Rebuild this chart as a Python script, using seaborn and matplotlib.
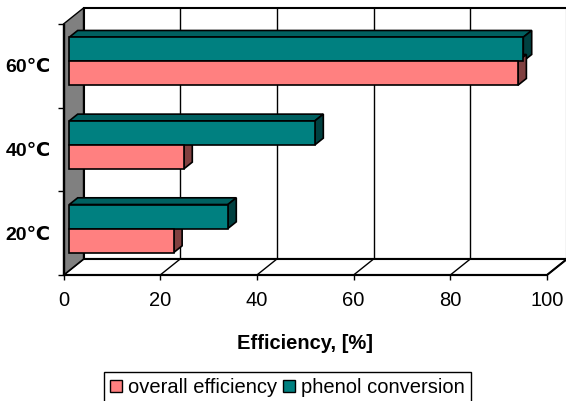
import matplotlib
matplotlib.use('Agg')
import matplotlib.pyplot as plt
import matplotlib.transforms as mtransforms
from matplotlib.patches import Polygon, Patch
from matplotlib.lines import Line2D
import pandas as pd
import seaborn as sns

# data
temps = ['60℃', '40℃', '20℃']
overall_efficiency = [92.8, 23.7, 21.6]
phenol_conversion = [93.9, 50.8, 32.8]
x_ticks = [0, 20, 40, 60, 80, 100]
series = ['overall efficiency', 'phenol conversion']

front_colors = {'overall efficiency': '#FF8080', 'phenol conversion': '#008080'}
top_colors = {'overall efficiency': '#C06060', 'phenol conversion': '#006060'}
side_colors = {'overall efficiency': '#804040', 'phenol conversion': '#004040'}

df = pd.DataFrame({
    'temp': temps * 2,
    'value': overall_efficiency + phenol_conversion,
    'series': [series[0]] * len(temps) + [series[1]] * len(temps),
})

sns.set_theme(style='white', rc={'text.color': 'black', 'axes.labelcolor': 'black',
                                 'xtick.color': 'black', 'ytick.color': 'black'})
plt.rcParams['font.family'] = ['Liberation Sans', 'DejaVu Sans']

W, H = 566, 401
fig = plt.figure(figsize=(W / 100, H / 100), dpi=100)

# front plane of the 3D box (pixels from top-left)
px_left, px_right, px_top, px_bottom = 63.5, 547, 24, 275
ax = fig.add_axes([px_left / W, 1 - px_bottom / H,
                   (px_right - px_left) / W, (px_bottom - px_top) / H])

DX, DY = 20, 16            # box depth in pixels
BAR_FRONT, BAR_BACK = 0.29, 0.71

hue_order = ['phenol conversion', 'overall efficiency']
sns.barplot(data=df, x='value', y='temp', hue='series', order=temps,
            hue_order=hue_order, palette=front_colors, saturation=1,
            width=0.574, edgecolor='black', linewidth=1.2, orient='h',
            legend=False, ax=ax, zorder=5)
ax.set_xlim(0, 100)
ax.set_ylim(len(temps) - 0.5, -0.5)
ax.patch.set_visible(False)

ident = mtransforms.IdentityTransform()


def disp(x, y, d=0.0):
    px, py = ax.transData.transform((x, y))
    return (px + d * DX, py + d * DY)


def poly(pts, fc, z, lw=1.0):
    ax.add_patch(Polygon(pts, closed=True, transform=ident, facecolor=fc,
                         edgecolor='black', linewidth=lw, zorder=z, clip_on=False))


def seg(p0, p1, z=2, lw=1.0):
    ax.add_line(Line2D([p0[0], p1[0]], [p0[1], p1[1]], transform=ident,
                       color='black', linewidth=lw, zorder=z, clip_on=False))


y_lo, y_hi = len(temps) - 0.5, -0.5   # bottom and top in data units

# back wall, floor, left wall
poly([disp(0, y_lo, 1), disp(100, y_lo, 1), disp(100, y_hi, 1), disp(0, y_hi, 1)], 'white', 1, 1.5)
poly([disp(0, y_lo, 0), disp(100, y_lo, 0), disp(100, y_lo, 1), disp(0, y_lo, 1)], 'white', 1.5, 1.5)
poly([disp(0, y_lo, 0), disp(0, y_hi, 0), disp(0, y_hi, 1), disp(0, y_lo, 1)], '#808080', 2, 1.0)
for t in x_ticks[1:-1]:
    seg(disp(t, y_lo, 1), disp(t, y_hi, 1), z=1.2)
for t in x_ticks[1:]:
    seg(disp(t, y_lo, 0), disp(t, y_lo, 1), z=1.6)

# push the bars back into the box and add their top and side faces
bar_shift = mtransforms.offset_copy(ax.transData, fig=fig, x=BAR_FRONT * DX,
                                    y=BAR_FRONT * DY, units='dots')
for name, cont in zip(hue_order, ax.containers):
    for p in cont:
        x0, w = p.get_x(), p.get_width()
        ya, yb = p.get_y(), p.get_y() + p.get_height()
        y_top, y_bot = min(ya, yb), max(ya, yb)
        xr = x0 + w
        p.set_transform(bar_shift)
        p.set_clip_on(False)
        poly([disp(x0, y_top, BAR_FRONT), disp(xr, y_top, BAR_FRONT),
              disp(xr, y_top, BAR_BACK), disp(x0, y_top, BAR_BACK)], top_colors[name], 3, 1.2)
        poly([disp(xr, y_bot, BAR_FRONT), disp(xr, y_top, BAR_FRONT),
              disp(xr, y_top, BAR_BACK), disp(xr, y_bot, BAR_BACK)], side_colors[name], 3, 1.2)

# axes, ticks and labels
for s in ['top', 'right']:
    ax.spines[s].set_visible(False)
ax.spines['bottom'].set_linewidth(1.5)
ax.spines['bottom'].set_color('black')
ax.spines['left'].set_linewidth(1.0)
ax.spines['left'].set_color('black')
ax.spines['bottom'].set_zorder(2.5)

ax.set_xticks(x_ticks)
ax.tick_params(axis='x', bottom=True, length=3.6, width=1, direction='out',
               labelsize=14.5, pad=8)
ax.set_yticks(range(len(temps)))
ax.set_yticklabels(temps, fontsize=14, fontweight='bold')
ax.tick_params(axis='y', which='major', left=True, length=0, pad=9)
ax.set_yticks([i - 0.5 for i in range(len(temps) + 1)], minor=True)
ax.tick_params(axis='y', which='minor', left=True, length=4, width=1, direction='out')

ax.set_xlabel('Efficiency, [%]', fontsize=14.5, fontweight='bold', labelpad=17)
ax.set_ylabel('')

handles = [Patch(facecolor=front_colors[s], edgecolor='black', linewidth=1) for s in series]
leg = fig.legend(handles, series, loc='upper left', bbox_to_anchor=(103.6 / W, 1 - 372 / H),
                 ncol=2, fontsize=14.5, frameon=True, fancybox=False, edgecolor='black',
                 framealpha=1, borderpad=0.3, handlelength=0.6, handleheight=0.6,
                 handletextpad=0.3, columnspacing=0.3, borderaxespad=0)
leg.get_frame().set_linewidth(1)

fig.savefig('out.png', dpi=100)
